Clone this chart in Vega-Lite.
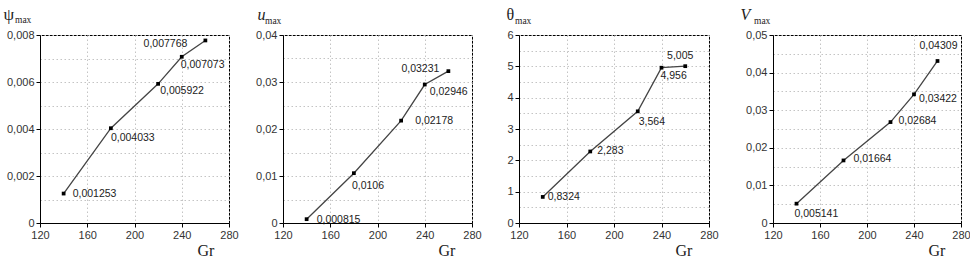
{
  "$schema": "https://vega.github.io/schema/vega-lite/v6.json",
  "padding": {"left": 2, "top": 4, "right": 0, "bottom": 0},
  "background": "white",
  "datasets": {
    "d": [
      {"Gr": 140, "psi": 0.001253, "u": 0.000815, "theta": 0.8324, "V": 0.005141},
      {"Gr": 180, "psi": 0.004033, "u": 0.0106, "theta": 2.283, "V": 0.01664},
      {"Gr": 220, "psi": 0.005922, "u": 0.02178, "theta": 3.564, "V": 0.02684},
      {"Gr": 240, "psi": 0.007073, "u": 0.02946, "theta": 4.956, "V": 0.03422},
      {"Gr": 260, "psi": 0.007768, "u": 0.03231, "theta": 5.005, "V": 0.04309}
    ]
  },
  "data": {"name": "d"},
  "spacing": 10,
  "hconcat": [
    {
      "width": 189, "height": 188,
      "title": {"text": "max", "dx": -25},
      "encoding": {
        "x": {"field": "Gr", "type": "quantitative", "scale": {"domain": [120, 280], "nice": false},
          "axis": {"values": [120, 160, 200, 240, 280], "title": "Gr", "titleX": 157, "titleY": 32, "titleAlign": "left", "titleBaseline": "alphabetic", "titleFontSize": 16, "labelFlush": false}},
        "y": {"field": "psi", "type": "quantitative", "scale": {"domain": [0, 0.008], "nice": false},
          "axis": {"values": [0, 0.001, 0.002, 0.003, 0.004, 0.005, 0.006, 0.007, 0.008], "format": "~g",
            "labelExpr": "round(datum.value*1000) % 2 == 0 ? datum.label : ''",
            "tickOpacity": {"condition": {"test": "round(datum.value*1000) % 2 == 0", "value": 1}, "value": 0},
            "title": "ψ", "titleAngle": 0, "titleX": -37, "titleY": -16, "titleAlign": "left", "titleBaseline": "alphabetic", "titleFontSize": 17,
            "minExtent": 37, "maxExtent": 37}}
      },
      "layer": [
        {"mark": {"type": "line", "color": "#444", "strokeWidth": 1.3}},
        {"mark": {"type": "square", "size": 14, "color": "#000", "opacity": 1, "filled": true}},
        {"mark": {"type": "text", "font": "Liberation Sans", "fontSize": 10.5, "color": "#222", "baseline": "middle",
          "align": {"expr": "datum.Gr == 260 ? 'right' : 'left'"},
          "dx": {"expr": "datum.Gr == 140 ? 9 : datum.Gr == 180 ? 0 : datum.Gr == 220 ? 2 : datum.Gr == 240 ? -1 : -18"},
          "dy": {"expr": "datum.Gr == 140 ? 0 : datum.Gr == 180 ? 10 : datum.Gr == 220 ? 7 : datum.Gr == 240 ? 8 : 4"}},
          "encoding": {"text": {"field": "psi", "type": "quantitative", "format": "~g"}}}
      ]
    },
    {
      "width": 189, "height": 188,
      "title": {"text": "max", "dx": -18},
      "encoding": {
        "x": {"field": "Gr", "type": "quantitative", "scale": {"domain": [120, 280], "nice": false},
          "axis": {"values": [120, 160, 200, 240, 280], "title": "Gr", "titleX": 155, "titleY": 32, "titleAlign": "left", "titleBaseline": "alphabetic", "titleFontSize": 16, "labelFlush": false}},
        "y": {"field": "u", "type": "quantitative", "scale": {"domain": [0, 0.04], "nice": false},
          "axis": {"values": [0, 0.005, 0.01, 0.015, 0.02, 0.025, 0.03, 0.035, 0.04], "format": "~g",
            "labelExpr": "round(datum.value*200) % 2 == 0 ? datum.label : ''",
            "tickOpacity": {"condition": {"test": "round(datum.value*200) % 2 == 0", "value": 1}, "value": 0},
            "title": "u", "titleFontStyle": "italic", "titleAngle": 0, "titleX": -26, "titleY": -16, "titleAlign": "left", "titleBaseline": "alphabetic", "titleFontSize": 16,
            "minExtent": 33, "maxExtent": 33}}
      },
      "layer": [
        {"mark": {"type": "line", "color": "#444", "strokeWidth": 1.3}},
        {"mark": {"type": "square", "size": 14, "color": "#000", "opacity": 1, "filled": true}},
        {"mark": {"type": "text", "font": "Liberation Sans", "fontSize": 10.5, "color": "#222", "baseline": "middle",
          "align": {"expr": "datum.Gr == 260 ? 'right' : 'left'"},
          "dx": {"expr": "datum.Gr == 140 ? 10 : datum.Gr == 180 ? -2 : datum.Gr == 220 ? 14 : datum.Gr == 240 ? 5 : -9"},
          "dy": {"expr": "datum.Gr == 140 ? 1 : datum.Gr == 180 ? 13 : datum.Gr == 220 ? 0 : datum.Gr == 240 ? 7 : -2"}},
          "encoding": {"text": {"field": "u", "type": "quantitative", "format": "~g"}}}
      ]
    },
    {
      "width": 190, "height": 188,
      "title": {"text": "max", "dx": -4},
      "encoding": {
        "x": {"field": "Gr", "type": "quantitative", "scale": {"domain": [120, 280], "nice": false},
          "axis": {"values": [120, 160, 200, 240, 280], "title": "Gr", "titleX": 156, "titleY": 32, "titleAlign": "left", "titleBaseline": "alphabetic", "titleFontSize": 16, "labelFlush": false}},
        "y": {"field": "theta", "type": "quantitative", "scale": {"domain": [0, 6], "nice": false},
          "axis": {"values": [0, 0.5, 1, 1.5, 2, 2.5, 3, 3.5, 4, 4.5, 5, 5.5, 6], "format": "~g",
            "labelExpr": "round(datum.value*2) % 2 == 0 ? datum.label : ''",
            "tickOpacity": {"condition": {"test": "round(datum.value*2) % 2 == 0", "value": 1}, "value": 0},
            "title": "θ", "titleAngle": 0, "titleX": -13, "titleY": -16, "titleAlign": "left", "titleBaseline": "alphabetic", "titleFontSize": 16,
            "minExtent": 26, "maxExtent": 26}}
      },
      "layer": [
        {"mark": {"type": "line", "color": "#444", "strokeWidth": 1.3}},
        {"mark": {"type": "square", "size": 14, "color": "#000", "opacity": 1, "filled": true}},
        {"mark": {"type": "text", "font": "Liberation Sans", "fontSize": 10.5, "color": "#222", "baseline": "middle",
          "align": {"expr": "datum.Gr == 260 ? 'center' : 'left'"},
          "dx": {"expr": "datum.Gr == 140 ? 5 : datum.Gr == 180 ? 7 : datum.Gr == 220 ? 1 : datum.Gr == 240 ? -1 : -5"},
          "dy": {"expr": "datum.Gr == 140 ? 0 : datum.Gr == 180 ? 0 : datum.Gr == 220 ? 11 : datum.Gr == 240 ? 8 : -10"}},
          "encoding": {"text": {"field": "theta", "type": "quantitative", "format": "~g"}}}
      ]
    },
    {
      "width": 188, "height": 188,
      "title": {"text": "max", "dx": -19},
      "encoding": {
        "x": {"field": "Gr", "type": "quantitative", "scale": {"domain": [120, 280], "nice": false},
          "axis": {"values": [120, 160, 200, 240, 280], "title": "Gr", "titleX": 155, "titleY": 32, "titleAlign": "left", "titleBaseline": "alphabetic", "titleFontSize": 16, "labelFlush": false}},
        "y": {"field": "V", "type": "quantitative", "scale": {"domain": [0, 0.05], "nice": false},
          "axis": {"values": [0, 0.005, 0.01, 0.015, 0.02, 0.025, 0.03, 0.035, 0.04, 0.045, 0.05], "format": "~g",
            "labelExpr": "round(datum.value*200) % 2 == 0 ? datum.label : ''",
            "tickOpacity": {"condition": {"test": "round(datum.value*200) % 2 == 0", "value": 1}, "value": 0},
            "title": "V", "titleFontStyle": "italic", "titleAngle": 0, "titleX": -33, "titleY": -16, "titleAlign": "left", "titleBaseline": "alphabetic", "titleFontSize": 16,
            "minExtent": 43, "maxExtent": 43}}
      },
      "layer": [
        {"mark": {"type": "line", "color": "#444", "strokeWidth": 1.3}},
        {"mark": {"type": "square", "size": 14, "color": "#000", "opacity": 1, "filled": true}},
        {"mark": {"type": "text", "font": "Liberation Sans", "fontSize": 10.5, "color": "#222", "baseline": "middle",
          "align": {"expr": "datum.Gr == 260 ? 'center' : 'left'"},
          "dx": {"expr": "datum.Gr == 140 ? -2 : datum.Gr == 180 ? 10 : datum.Gr == 220 ? 8 : datum.Gr == 240 ? 5 : 1"},
          "dy": {"expr": "datum.Gr == 140 ? 10 : datum.Gr == 180 ? -1 : datum.Gr == 220 ? -1 : datum.Gr == 240 ? 5 : -15"}},
          "encoding": {"text": {"field": "V", "type": "quantitative", "format": "~g"}}}
      ]
    }
  ],
  "config": {
    "locale": {"number": {"decimal": ",", "thousands": " ", "grouping": [3], "currency": ["", ""]}},
    "view": {"stroke": "#000", "strokeWidth": 1},
    "axis": {"labelFont": "Liberation Sans", "labelFontSize": 11, "labelColor": "#333", "tickColor": "#000", "tickSize": 4, "labelPadding": 2,
      "domainColor": "#000", "grid": true, "gridColor": "#c4c4c4", "gridDash": [1.5, 2.5],
      "titleFont": "Liberation Serif", "titleFontWeight": "normal", "titleColor": "#222"},
    "title": {"font": "Liberation Serif", "fontWeight": "normal", "fontSize": 9.5, "color": "#222", "anchor": "start", "frame": "group", "baseline": "alphabetic", "offset": -19}
  }
}
